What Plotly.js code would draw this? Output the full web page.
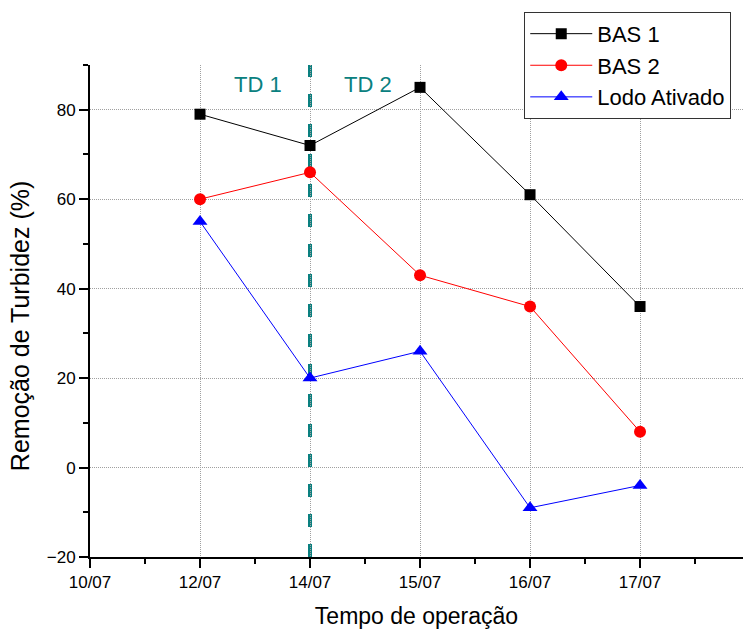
<!DOCTYPE html>
<html>
<head>
<meta charset="utf-8">
<script src="https://cdn.plot.ly/plotly-3.0.1.min.js"></script>
<style>html,body{margin:0;padding:0;background:#fff;}#chart{width:743px;height:630px;}</style>
</head>
<body>
<div id="chart"></div>
<script>
// Axis categories (tick labels)
const categories = ["10/07", "12/07", "14/07", "15/07", "16/07", "17/07"];
// Sampling dates of the series
const dates = ["12/07", "14/07", "15/07", "16/07", "17/07"];
// Series values (% turbidity removal)
const bas1 = [79, 72, 85, 61, 36];
const bas2 = [60, 66, 43, 36, 8];
const lodoAtivado = [55, 20, 26, -9, -4];
// Phase marker
const phaseDate = "14/07";
const phaseLabels = ["TD 1", "TD 2"];
const yTitle = "Remoção de Turbidez (%)";
const xTitle = "Tempo de operação";

const xIdx = dates.map(d => categories.indexOf(d));
const font = "'Liberation Sans', Arial, sans-serif";

const traces = [
  {x: xIdx, y: bas1, name: "BAS 1", mode: "lines+markers",
   line: {color: "#000000", width: 1}, marker: {symbol: "square", size: 11, color: "#000000"}},
  {x: xIdx, y: bas2, name: "BAS 2", mode: "lines+markers",
   line: {color: "#ff0000", width: 1}, marker: {symbol: "circle", size: 12, color: "#ff0000"}},
  {x: xIdx, y: lodoAtivado, name: "Lodo Ativado", mode: "lines+markers",
   line: {color: "#0000ff", width: 1}, marker: {symbol: "triangle-up", size: 13, color: "#0000ff"}}
];

const px = categories.indexOf(phaseDate);

const layout = {
  width: 743, height: 630,
  margin: {l: 90, r: 0, t: 65, b: 73},
  paper_bgcolor: "#ffffff", plot_bgcolor: "#ffffff",
  font: {family: font, color: "#000000", size: 17},
  showlegend: true,
  legend: {
    x: 0.665, xanchor: "left", y: 1.108, yanchor: "top",
    bordercolor: "#333333", borderwidth: 1, bgcolor: "#ffffff",
    font: {family: font, size: 22, color: "#000000"},
    itemwidth: 62, tracegroupgap: 0
  },
  xaxis: {
    range: [0, 5.936],
    tickmode: "array",
    tickvals: categories.map((c, i) => i),
    ticktext: categories,
    ticks: "outside", ticklen: 9, tickwidth: 2, tickcolor: "#000",
    showline: true, linecolor: "#000", linewidth: 2,
    showgrid: true, gridcolor: "#a0a0a0", gridwidth: 1, griddash: "1px,1px",
    zeroline: false,
    tickfont: {family: font, size: 17, color: "#000"},
    minor: {tickmode: "linear", tick0: 0.5, dtick: 1, ticks: "outside", ticklen: 5, tickwidth: 2, tickcolor: "#000", showgrid: false},
    title: {text: xTitle, font: {family: font, size: 23, color: "#000"}, standoff: 16}
  },
  yaxis: {
    range: [-20, 90],
    tickmode: "linear", tick0: -20, dtick: 20,
    ticks: "outside", ticklen: 9, tickwidth: 2, tickcolor: "#000",
    showline: true, linecolor: "#000", linewidth: 2,
    showgrid: true, gridcolor: "#a0a0a0", gridwidth: 1, griddash: "1px,1px",
    zeroline: false,
    tickfont: {family: font, size: 17, color: "#000"},
    minor: {tickmode: "linear", tick0: -10, dtick: 20, ticks: "outside", ticklen: 5, tickwidth: 2, tickcolor: "#000", showgrid: false}
  },
  shapes: [
    {type: "line", xref: "x", yref: "paper", x0: px, x1: px, y0: 0, y1: 1,
     line: {color: "#0a8080", width: 4, dash: "13px,17px"}, layer: "below"}
  ],
  annotations: [
    {xref: "paper", yref: "paper", x: -0.107, y: 0.4695, xanchor: "center", yanchor: "middle",
     text: yTitle, textangle: -90, showarrow: false, font: {family: font, size: 25, color: "#000"}},
    {xref: "x", yref: "paper", x: px - 0.24, y: 0.96, xanchor: "right", yanchor: "middle",
     text: phaseLabels[0], showarrow: false, font: {family: font, size: 22, color: "#0a8080"}},
    {xref: "x", yref: "paper", x: px + 0.29, y: 0.96, xanchor: "left", yanchor: "middle",
     text: phaseLabels[1], showarrow: false, font: {family: font, size: 22, color: "#0a8080"}}
  ]
};

Plotly.newPlot("chart", traces, layout, {displayModeBar: false, staticPlot: true});
</script>
</body>
</html>
